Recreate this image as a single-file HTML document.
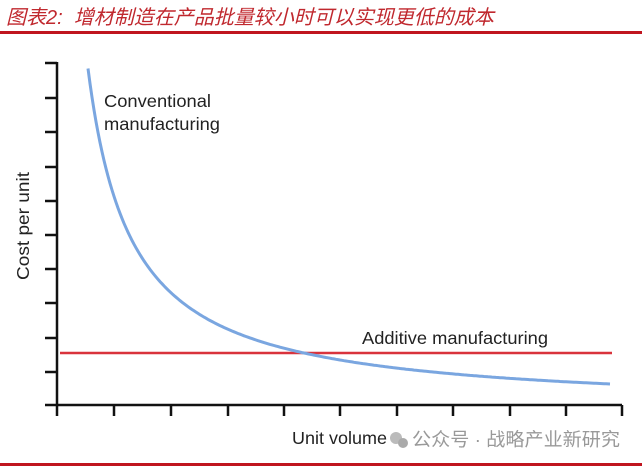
<!DOCTYPE html>
<html><head><meta charset="utf-8"><style>
body{margin:0;width:642px;height:466px;background:#fff;overflow:hidden;position:relative;font-family:"Liberation Sans","Noto Sans CJK SC",sans-serif}
</style></head><body>
<div style="position:absolute;left:6px;top:1px;color:#c0282e;font-style:italic;font-size:20px;font-family:'Liberation Sans','Noto Sans CJK SC',sans-serif;white-space:nowrap">图表2:&nbsp;&nbsp;增材制造在产品批量较小时可以实现更低的成本</div>
<div style="position:absolute;left:0;top:31px;width:642px;height:3px;background:#c0151f"></div>
<div style="position:absolute;left:0;top:463px;width:642px;height:3px;background:#c0151f"></div>
<svg width="642" height="466" style="position:absolute;left:0;top:0">
<g stroke="#111" stroke-width="2.5" fill="none">
<line x1="57" y1="62" x2="57" y2="406"/>
<line x1="45" y1="405" x2="622" y2="405"/>
<path d="M45 63H57M45 98H57M45 132H57M45 167H57M45 201H57M45 235H57M45 269H57M45 303H57M45 338H57M45 372H57"/>
<path d="M57 405V416M114 405V416M171 405V416M228 405V416M284 405V416M340 405V416M397 405V416M453 405V416M510 405V416M566 405V416M622 405V416"/>
</g>
<line x1="60" y1="353" x2="612" y2="353" stroke="#d9333c" stroke-width="2.5"/>
<path id="c" fill="none" stroke="#7aa6e0" stroke-width="3" d=""/>
<g font-size="17.5" fill="#222" textLength="">
<text x="104" y="107" textLength="107" lengthAdjust="spacingAndGlyphs">Conventional</text>
<text x="104" y="130" textLength="116" lengthAdjust="spacingAndGlyphs">manufacturing</text>
<text x="362" y="344" textLength="186" lengthAdjust="spacingAndGlyphs">Additive manufacturing</text>
<text transform="translate(29,226) rotate(-90)" text-anchor="middle" textLength="108" lengthAdjust="spacingAndGlyphs">Cost per unit</text>
<text x="292" y="444" textLength="95" lengthAdjust="spacingAndGlyphs">Unit volume</text>
</g>
<circle cx="396" cy="438" r="6" fill="#bbb"/><circle cx="403" cy="443" r="5" fill="#aaa"/>
<text x="412" y="446" font-size="18.5" fill="#999" textLength="208" lengthAdjust="spacingAndGlyphs">公众号 · 战略产业新研究</text>
</svg>
<script>
var d="";for(var x=88;x<=610;x+=2){var y=410.3-14870/(x-44.5);d+=(x==88?"M":"L")+x+" "+y.toFixed(1);}
document.getElementById("c").setAttribute("d",d);
</script>
</body></html>
